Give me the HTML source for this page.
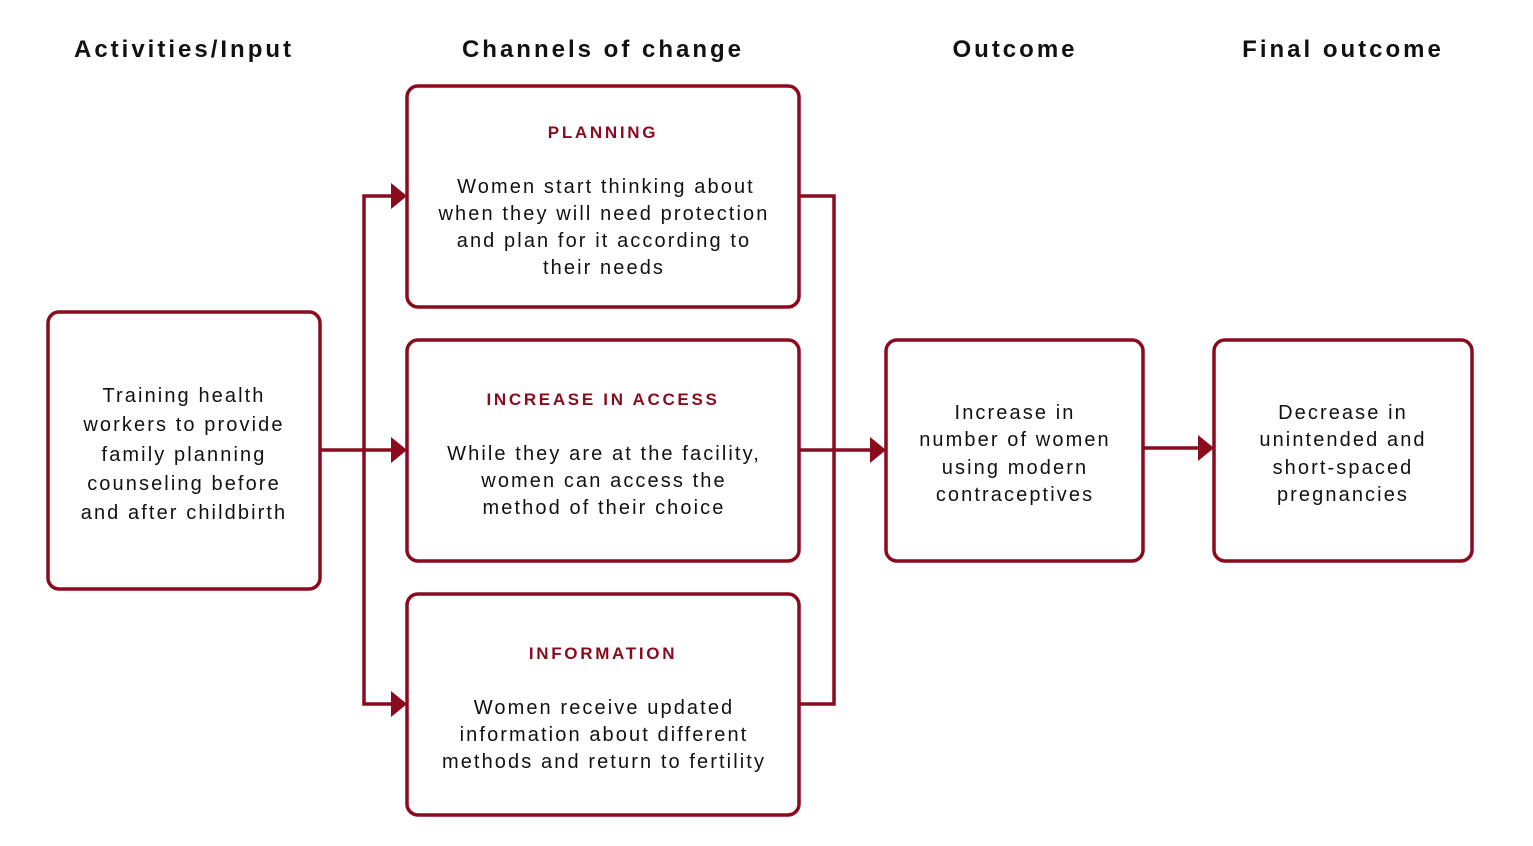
<!DOCTYPE html>
<html><head><meta charset="utf-8"><style>
html,body{margin:0;padding:0;background:#fff;}
svg{display:block;}
.h{font-family:"Liberation Sans",sans-serif;font-weight:bold;font-size:24px;letter-spacing:3px;fill:#111;text-anchor:middle;}
.t{font-family:"Liberation Sans",sans-serif;font-weight:bold;font-size:17px;letter-spacing:2.7px;fill:#8a0a1e;text-anchor:middle;}
.b{font-family:"Liberation Sans",sans-serif;font-size:20px;letter-spacing:2.1px;fill:#111;text-anchor:middle;}
.box{fill:#fff;stroke:#8a0a1e;stroke-width:3.5;}
.ln{fill:none;stroke:#8a0a1e;stroke-width:3.5;}
.ar{fill:#8a0a1e;}
</style></head><body>
<svg width="1533" height="846" viewBox="0 0 1533 846" xmlns="http://www.w3.org/2000/svg">
<text class="h" x="184" y="57">Activities/Input</text>
<text class="h" x="603" y="57">Channels of change</text>
<text class="h" x="1015" y="57">Outcome</text>
<text class="h" x="1343" y="57">Final outcome</text>

<path class="ln" d="M321 450 H392"/>
<path class="ln" d="M392 196 H364 V704 H392"/>
<path class="ln" d="M800 196 H834 V704 H800"/>
<path class="ln" d="M800 450 H871"/>
<path class="ln" d="M1144 448 H1199"/>
<polygon class="ar" points="391,183 407,196 391,209"/>
<polygon class="ar" points="391,437 407,450 391,463"/>
<polygon class="ar" points="391,691 407,704 391,717"/>
<polygon class="ar" points="870,437 886,450 870,463"/>
<polygon class="ar" points="1198,435 1214,448 1198,461"/>

<rect class="box" x="48" y="312" width="272" height="277" rx="11"/>
<text class="b" x="184" y="402">Training health</text>
<text class="b" x="184" y="431">workers to provide</text>
<text class="b" x="184" y="461">family planning</text>
<text class="b" x="184" y="490">counseling before</text>
<text class="b" x="184" y="519">and after childbirth</text>

<rect class="box" x="407" y="86" width="392" height="221" rx="11"/>
<text class="t" x="603" y="138">PLANNING</text>
<text class="b" x="606" y="193">Women start thinking about</text>
<text class="b" x="604" y="220">when they will need protection</text>
<text class="b" x="604" y="247">and plan for it according to</text>
<text class="b" x="604" y="274">their needs</text>

<rect class="box" x="407" y="340" width="392" height="221" rx="11"/>
<text class="t" x="603" y="405">INCREASE IN ACCESS</text>
<text class="b" x="604" y="460">While they are at the facility,</text>
<text class="b" x="604" y="487">women can access the</text>
<text class="b" x="604" y="514">method of their choice</text>

<rect class="box" x="407" y="594" width="392" height="221" rx="11"/>
<text class="t" x="603" y="659">INFORMATION</text>
<text class="b" x="604" y="714">Women receive updated</text>
<text class="b" x="604" y="741">information about different</text>
<text class="b" x="604" y="768">methods and return to fertility</text>

<rect class="box" x="886" y="340" width="257" height="221" rx="11"/>
<text class="b" x="1015" y="419">Increase in</text>
<text class="b" x="1015" y="446">number of women</text>
<text class="b" x="1015" y="474">using modern</text>
<text class="b" x="1015" y="501">contraceptives</text>

<rect class="box" x="1214" y="340" width="258" height="221" rx="11"/>
<text class="b" x="1343" y="419">Decrease in</text>
<text class="b" x="1343" y="446">unintended and</text>
<text class="b" x="1343" y="474">short-spaced</text>
<text class="b" x="1343" y="501">pregnancies</text>
</svg>
</body></html>
